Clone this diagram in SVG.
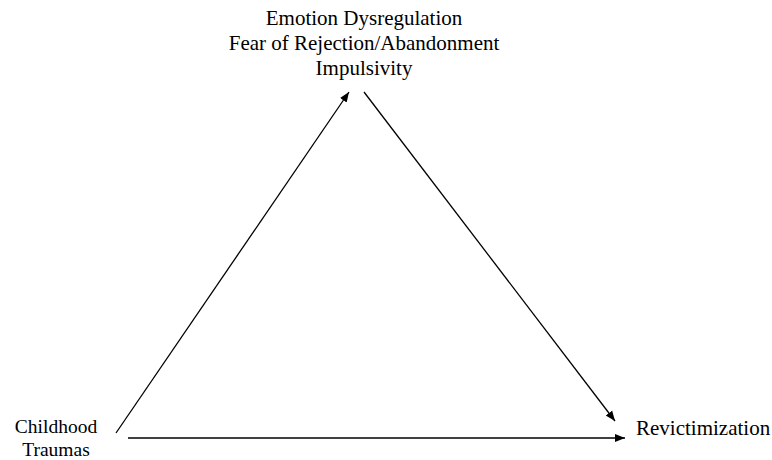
<svg xmlns="http://www.w3.org/2000/svg" width="772" height="460" viewBox="0 0 772 460">
<style>
text{font-family:"Liberation Serif","Times New Roman",serif;font-size:21px;fill:#000}
#childhood text{font-size:19.5px}
.c{stroke:#000;stroke-width:1.3;fill:none;marker-end:url(#ah)}
</style>
<defs>
<marker id="ah" viewBox="0 0 10 10" refX="10" refY="5" markerWidth="10" markerHeight="10" markerUnits="userSpaceOnUse" orient="auto">
<path d="M0,1 L10,5 L0,9 z" fill="#000"/>
</marker>
</defs>
<rect width="772" height="460" fill="#fff"/>
<g id="mediators">
<text x="364" y="25" text-anchor="middle">Emotion Dysregulation</text>
<text x="364" y="50" text-anchor="middle">Fear of Rejection/Abandonment</text>
<text x="364" y="75" text-anchor="middle">Impulsivity</text>
</g>
<g id="childhood">
<text x="56" y="433" text-anchor="middle">Childhood</text>
<text x="56" y="456" text-anchor="middle">Traumas</text>
</g>
<g id="revictimization">
<text x="636" y="435">Revictimization</text>
</g>
<g id="connectors">
<line class="c" x1="116" y1="433" x2="349" y2="92"/>
<line class="c" x1="364" y1="92" x2="615" y2="421"/>
<line class="c" x1="128" y1="438" x2="625" y2="438"/>
</g>
</svg>
